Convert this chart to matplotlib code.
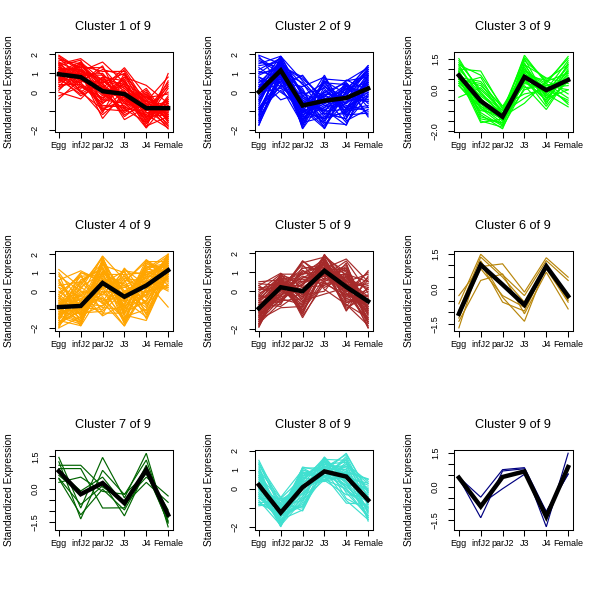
import matplotlib
matplotlib.use("Agg")
import matplotlib.pyplot as plt
import numpy as np

plt.rcParams['font.family'] = ['Liberation Sans', 'DejaVu Sans']

stages = ["Egg", "infJ2", "parJ2", "J3", "J4", "Female"]

cluster_colors = ["red", "blue", "#00FF00", "orange", "brown",
                  "darkgoldenrod", "darkgreen", "turquoise", "navy"]

c1_lines = [
    [1.96, 1.2, 0.6, 0.3, -0.5, -1.2],
    [1.5, 1.78, 0.9, 0.2, -0.8, -0.9],
    [1.3, 1.1, 1.6, 0.5, -0.3, -1.0],
    [1.2, 0.6, 0.2, 1.3, -0.2, -1.5],
    [1.1, 0.9, -0.2, 0.8, 0.36, -0.6],
    [0.9, 1.4, 0.3, -0.5, -1.9, 0.99],
    [0.8, 0.5, -0.6, 0.2, -1.0, 0.5],
    [0.7, 1.2, 0.0, -1.0, -0.6, -1.95],
    [0.5, 0.9, 1.0, -0.3, -1.2, -0.4],
    [1.4, 0.3, -0.4, -0.6, -0.9, -1.3],
    [-0.36, 0.7, 0.5, 1.0, -0.7, -1.4],
    [0.0, -0.36, 0.8, 0.6, -1.1, -0.9],
    [1.6, 1.0, -1.4, 0.0, -0.5, -0.7],
    [1.0, 1.5, 0.4, -1.46, -0.8, -0.5],
    [1.2, 0.8, 0.1, -0.2, -1.5, 0.2],
    [0.6, 1.0, -0.8, -0.7, 0.1, -1.6],
    [1.3, 0.2, 0.7, 0.4, -1.3, -0.8],
    [0.3, 0.6, 1.2, 0.9, -0.4, -1.1],
    [1.8, 1.3, -0.1, -0.9, -1.6, -0.3],
    [0.9, 0.0, -0.9, -0.4, -0.9, -1.8],
    [1.1, 1.6, 0.6, -0.1, -0.1, -1.2],
    [0.4, 0.4, -0.3, 0.7, -1.4, 0.6],
    [1.5, 0.7, 0.2, -1.2, -0.6, -1.0],
    [0.7, 1.1, -1.0, 0.1, -1.7, -0.2],
    [1.0, 0.9, 0.9, -0.8, 0.0, -1.5],
    [1.7, 1.5, 0.4, -0.4, -1.3, -0.6],
    [0.2, 0.9, 0.0, 1.2, -0.6, -1.7],
    [1.4, 1.7, -0.6, 0.5, -1.1, -1.1],
    [0.8, -0.2, 0.5, -1.1, -0.3, -0.1],
    [1.2, 1.3, 1.3, 0.0, -1.8, -1.3],
    [-0.2, 0.3, -0.3, 0.3, -0.5, 0.8],
    [1.6, 0.4, -0.7, -0.8, -1.2, -1.9],
    [0.6, 1.4, 1.1, 1.1, -0.9, -0.6],
    [1.0, 0.1, -1.2, -0.2, -1.5, -0.4],
    [1.9, 1.1, 0.7, -0.6, 0.2, -1.4],
    [0.1, 1.2, -0.5, 0.6, -1.0, 0.3],
    [1.3, 0.6, 0.3, -1.3, -0.4, -1.8],
    [0.5, 1.6, -0.1, 0.4, -1.6, -0.7],
    [1.5, 0.0, 0.8, -0.5, -0.7, 0.0],
    [0.9, 1.0, -1.1, 1.0, -1.3, -1.2],
    [1.1, 0.5, 1.4, -0.9, -0.1, -1.6],
    [0.3, 1.5, 0.2, 0.0, -1.9, -0.5],
    [1.8, 0.8, -0.4, 0.8, -0.8, -1.0],
    [0.7, -0.1, 0.6, -0.3, -1.4, 0.4],
    [1.2, 1.2, -0.9, -1.0, -0.2, -1.3],
]
c1_mean = [0.95, 0.8, 0.05, -0.1, -0.85, -0.85]

c2_lines = [
    [1.95, 1.5, -0.5, -1.0, 0.2, 0.5],
    [1.5, 1.9, -0.2, -0.8, -0.5, -0.2],
    [1.0, 1.2, -1.0, 0.5, -0.9, 0.8],
    [0.8, 0.3, 0.9, -0.6, -0.2, -0.5],
    [0.5, 1.6, -1.5, 0.0, -0.4, 1.2],
    [0.3, 0.9, -0.6, -1.5, 0.65, 0.1],
    [0.1, 1.4, -1.93, -0.3, -0.8, 0.6],
    [-0.2, 1.0, 0.2, -1.93, 0.1, 1.4],
    [-0.5, 1.7, -0.9, 0.9, -1.2, -0.1],
    [-0.8, 0.6, -0.3, -0.9, -1.75, 0.9],
    [-1.0, 1.3, -1.2, -0.4, 0.4, -1.3],
    [-1.3, 0.4, -0.7, 0.3, -0.6, 0.3],
    [-1.75, 1.1, 0.5, -1.2, 0.0, 1.0],
    [-1.5, 0.8, -1.4, -0.1, -1.0, -0.8],
    [0.7, -0.4, 0.0, -0.7, -0.3, 0.4],
    [1.2, 1.8, -0.8, -1.6, 0.5, -0.6],
    [-0.4, 1.5, -1.7, 0.6, -0.1, 1.1],
    [0.0, 0.2, -0.4, -1.1, -1.4, 0.7],
    [1.7, 1.0, -1.1, -0.2, -0.7, -1.0],
    [-1.1, 1.6, 0.4, -0.5, 0.3, 0.0],
    [0.4, 0.7, -1.6, -1.3, -0.2, 1.3],
    [-0.7, 1.9, -0.1, 0.2, -1.1, 0.2],
    [1.3, 0.5, -1.3, -0.8, 0.2, -0.4],
    [-1.6, 1.2, -0.5, -1.7, -0.5, 0.5],
    [0.9, 1.4, 0.7, -0.3, -1.6, -0.2],
    [-0.3, 0.9, -1.8, 0.7, 0.6, 0.8],
    [0.2, 1.7, -0.2, -1.0, -0.9, -0.7],
    [-0.9, 0.1, -1.0, -1.4, 0.0, 1.2],
    [1.6, 1.3, -0.6, 0.4, -1.3, 0.3],
    [-1.2, 1.0, -1.2, -0.6, 0.3, -0.1],
    [1.8, 1.1, -1.5, 0.1, -0.6, 0.9],
    [-1.4, 1.8, -0.9, -1.9, 0.4, -0.3],
    [0.6, 0.5, 0.3, 0.8, -1.5, -0.9],
    [-0.1, 1.3, -1.1, -0.2, 0.6, 1.3],
    [1.1, 0.8, -0.4, -1.4, -1.0, 0.6],
    [-0.6, 1.5, -1.9, 0.3, -0.3, -0.5],
    [0.3, 1.9, 0.6, -0.7, -0.8, 0.0],
    [-1.7, 0.7, -0.3, -1.0, 0.2, 1.1],
    [1.4, 1.6, -1.3, 0.6, -1.2, -1.1],
    [-0.9, 1.2, 0.1, -1.6, -1.7, 0.4],
    [0.0, 1.0, -0.7, 0.0, 0.5, -0.8],
    [1.9, 0.4, -1.0, -0.5, -0.1, 0.7],
    [-1.2, 1.7, -1.6, 0.8, -0.9, 0.2],
    [0.8, 0.0, -0.8, -1.8, 0.1, 1.4],
    [-0.4, 1.4, 0.8, -0.4, -0.4, -0.4],
    [0.5, 1.1, -1.4, -1.1, -1.4, 0.9],
    [-1.5, 0.9, -0.2, 0.5, 0.4, -1.2],
    [1.0, 1.8, -0.6, -0.9, -0.6, 1.0],
    [-0.8, 0.3, -1.7, -0.1, -0.2, 0.1],
    [0.2, 1.6, 0.0, -1.3, -1.1, 0.5],
]
c2_mean = [0.02, 1.15, -0.7, -0.45, -0.3, 0.2]

c3_lines = [
    [1.5, -0.2, -1.2, 1.66, 0.3, 1.6],
    [1.3, 0.0, -1.0, 1.4, 0.5, 1.2],
    [1.2, -0.5, -1.5, 1.0, -0.3, 0.9],
    [1.0, 0.9, -0.9, 0.8, 0.1, -0.6],
    [0.9, -0.8, -1.6, 1.2, 0.57, 0.3],
    [0.8, -1.2, -1.88, 0.5, -0.5, 1.0],
    [0.7, -0.3, -1.1, 0.2, -0.95, 0.6],
    [0.6, -1.58, -1.4, 0.9, 0.2, 0.0],
    [0.5, 0.2, -0.78, -0.2, 0.0, 1.4],
    [0.4, -0.9, -1.7, 0.6, -0.2, -0.82],
    [0.3, -0.6, -1.3, -0.65, 0.4, 0.8],
    [0.2, -1.0, -1.2, 1.1, -0.6, 0.4],
    [-0.36, 0.1, -1.0, 0.4, -0.1, 1.1],
    [1.1, -0.4, -1.5, 0.0, 0.3, -0.4],
    [0.9, -1.3, -1.6, 1.5, -0.4, 0.7],
    [0.6, 0.4, -0.9, 0.7, 0.45, -0.2],
    [0.4, -0.7, -1.45, 1.3, -0.7, 1.3],
    [1.4, -0.1, -1.3, 0.3, 0.1, 0.2],
    [0.7, -1.1, -1.75, 0.85, -0.3, 0.9],
    [0.5, -0.5, -1.1, -0.4, 0.2, 0.5],
    [0.8, -0.9, -1.4, 1.0, 0.0, -0.5],
    [0.3, 0.6, -1.2, 0.55, -0.8, 0.6],
    [1.0, -0.2, -1.0, 1.55, 0.4, 1.5],
    [0.6, -1.4, -1.6, 0.4, -0.5, 0.8],
    [1.2, 0.7, -0.8, 0.9, 0.3, -0.7],
    [0.2, -0.8, -1.3, 1.2, -0.2, 1.2],
    [0.9, -1.5, -1.8, 0.1, 0.2, 0.4],
    [0.5, 0.3, -1.15, 0.7, -0.4, 0.0],
]
c3_mean = [0.69, -0.54, -1.3, 0.62, -0.02, 0.47]

c4_lines = [
    [1.17, 0.2, 1.0, 0.3, 0.9, 1.5],
    [0.6, 1.1, 0.5, -0.5, 1.2, 2.0],
    [0.2, -0.3, 1.9, 0.6, 0.2, 1.1],
    [-0.1, 0.8, -0.6, 1.25, -0.3, 1.6],
    [-0.4, -1.2, 1.3, -0.8, 1.7, 0.9],
    [-0.6, -0.5, 0.0, -1.5, 0.6, 1.8],
    [-0.8, 0.4, 1.5, 0.0, -0.9, 1.3],
    [-1.0, -1.6, 0.8, -0.2, 0.4, 0.5],
    [-1.2, -0.9, -1.0, 0.9, 1.0, 1.4],
    [-1.4, -0.2, 0.3, -1.1, -0.2, 2.0],
    [-1.6, -1.88, 1.1, -0.4, 0.8, 0.7],
    [-1.8, -1.0, -0.3, -1.9, 0.1, 1.2],
    [-2.0, -1.4, 0.6, 0.4, -0.6, 1.7],
    [-1.5, 0.0, -1.35, -0.7, 1.4, 0.3],
    [-1.1, -1.7, 1.7, -1.3, -1.6, 1.0],
    [-0.7, -0.7, -0.8, 0.7, 0.5, -0.87],
    [-0.3, -1.3, 0.2, -1.7, 1.1, 1.9],
    [-0.9, 0.6, 1.2, -0.1, -1.2, 0.8],
    [-1.3, -0.4, -0.1, 0.2, 0.7, 1.5],
    [-1.7, -1.1, 0.9, -1.0, 0.0, 0.2],
    [0.4, -0.8, 0.4, -0.6, 1.5, 1.2],
    [-0.5, -1.5, 1.4, 1.0, -0.4, 1.6],
    [-1.9, 0.2, -0.5, -0.3, 0.3, 1.0],
    [-1.0, -0.6, 1.6, -1.4, -1.0, 1.8],
    [0.9, -1.8, 0.7, -0.9, 0.9, 0.6],
    [-0.2, 0.9, -1.2, -1.2, 1.3, 1.3],
    [-1.45, -0.1, 0.1, 0.8, -0.7, 0.4],
    [-0.8, -1.25, 1.0, -1.8, 0.2, 1.7],
    [-1.25, 0.5, -0.7, 0.5, 1.6, 0.9],
    [-0.6, -1.5, 1.8, -0.5, -1.4, 1.1],
    [0.8, 0.0, -0.2, 1.1, -1.3, 1.4],
    [0.0, -1.0, 1.5, -0.9, 0.6, 0.0],
    [-1.5, 1.0, 0.5, 0.2, -0.1, 1.9],
    [-0.3, -1.9, 0.0, -0.2, 1.0, 0.7],
    [-1.9, -0.5, 1.0, -1.6, 1.3, 1.5],
    [-1.2, -1.2, -1.1, 0.0, 0.2, 2.0],
    [0.3, 0.5, 1.3, -1.2, -0.5, 0.9],
    [-0.9, -1.6, 0.4, 1.1, 0.9, 1.2],
    [-1.6, 0.3, 1.8, -0.6, 0.0, 0.3],
    [-0.5, -0.3, -0.6, -1.9, 1.6, 1.6],
    [-1.1, -1.0, 0.6, 0.6, -1.5, 1.0],
    [0.6, -1.4, 1.1, -0.4, 0.4, 1.8],
    [-1.8, -0.2, -0.9, -1.0, 1.1, 0.6],
    [-0.7, 0.8, 0.9, 0.9, -0.8, 1.4],
    [-1.4, -1.8, 1.5, -0.1, 0.5, 0.1],
    [1.0, -0.6, -0.4, -1.5, 0.8, 1.7],
    [-0.2, -1.1, 0.2, 0.3, -1.1, 1.1],
    [-2.0, 0.6, 1.2, -1.3, 1.5, 0.8],
    [-1.0, -0.4, -1.3, 1.2, 0.3, 1.3],
    [-0.4, 1.0, 0.7, -0.8, -0.2, 1.9],
    [-1.3, -1.7, 0.3, 0.5, 1.7, 0.5],
    [0.5, -0.9, 1.6, -1.1, -0.6, 1.5],
    [-1.7, -0.7, -0.2, -0.3, 1.2, 1.0],
    [-0.8, 0.1, 1.9, -1.7, 0.1, 1.2],
    [0.2, -1.3, -0.8, 0.0, 0.7, 0.2],
]
c4_mean = [-0.87, -0.81, 0.44, -0.31, 0.3, 1.13]

c5_lines = [
    [0.5, 0.6, 0.9, 1.4, 0.5, 0.2],
    [0.3, 0.95, 0.2, 1.0, -0.3, 1.08],
    [0.1, 0.0, 1.6, 0.8, 0.9, -0.5],
    [-0.1, 0.4, -0.6, 1.95, 0.1, -1.2],
    [-0.3, -0.2, 0.5, 1.2, 1.7, 0.5],
    [-0.5, 0.8, -1.4, 0.6, 0.3, -0.9],
    [-0.7, 0.3, 0.3, 1.6, -0.6, 0.0],
    [-0.9, -0.5, 1.1, 0.2, 0.8, -1.5],
    [-1.1, 0.7, -0.2, 1.3, -1.05, 0.8],
    [-1.3, 0.1, 0.7, 0.9, 0.4, -1.93],
    [-1.5, -0.87, -0.8, 1.7, 0.0, -0.3],
    [-1.7, 0.5, 0.0, 1.1, 1.2, -1.0],
    [-1.85, 0.2, -1.0, 0.5, -0.4, -0.7],
    [-1.6, -0.4, 0.4, 1.5, 0.6, 0.3],
    [-1.2, 0.9, -0.5, -0.15, 0.2, -1.4],
    [-0.8, -0.7, 1.3, 1.0, -0.8, 0.6],
    [-0.4, 0.6, -0.3, 1.8, 1.0, -1.7],
    [-1.0, -0.1, 0.8, 0.4, -0.2, -0.4],
    [-1.4, 0.4, -1.2, 1.2, 0.7, 0.1],
    [-0.6, -0.3, 0.1, 0.7, 1.4, -1.1],
    [0.2, 0.1, -0.7, 1.6, -0.5, -0.6],
    [-1.75, 0.8, 0.6, 0.9, 0.1, -1.6],
    [-0.2, -0.6, 1.0, 1.4, -0.9, -0.2],
    [-1.0, 0.5, -0.1, 1.9, 0.5, 0.9],
    [-1.5, -0.2, 0.2, 0.3, 0.9, -1.3],
    [0.4, 0.3, -0.9, 1.1, -0.1, -0.8],
    [-0.9, 0.7, 0.5, 0.8, 1.6, -0.1],
    [-1.3, -0.5, -0.4, 1.5, 0.2, 0.4],
    [-0.5, 0.2, 1.4, 0.1, -0.7, -1.8],
    [-1.1, 0.6, -1.1, 1.3, 0.4, -0.9],
    [-1.9, 0.4, -0.3, 1.0, 0.3, -1.93],
    [0.0, 0.9, 0.9, 1.7, -0.6, -0.4],
    [-1.2, -0.3, 1.6, 0.6, 1.3, -1.0],
    [-0.6, 0.6, -0.8, 1.2, -0.2, 0.7],
    [-1.6, 0.0, 0.3, 1.9, 0.8, -0.8],
    [-0.3, 0.8, -1.3, 0.4, 0.6, -1.5],
    [-1.4, 0.2, 1.2, 1.4, -1.0, 0.2],
    [0.3, -0.5, 0.4, 0.9, 1.1, -1.2],
    [-0.8, 0.5, -0.6, 1.6, 0.0, 1.0],
    [-1.7, -0.6, 0.7, 1.3, 0.5, -0.5],
    [-1.0, 0.9, -0.2, 0.0, 1.5, -1.7],
    [-0.4, 0.1, 1.5, 1.8, -0.3, -0.2],
    [-1.3, 0.7, -1.0, 0.7, 0.2, -1.1],
    [-0.7, -0.8, 0.0, 1.5, 0.9, 0.5],
    [-1.8, 0.3, 0.9, 1.1, -0.7, -1.4],
    [0.1, 0.5, -0.4, 1.9, 0.4, -0.6],
    [-1.1, -0.2, 1.1, 0.5, 1.2, -1.9],
    [-0.2, 0.8, -1.2, 1.3, -0.4, 0.1],
    [-1.5, 0.4, 0.5, 0.8, 0.7, -0.3],
    [-0.9, -0.4, -0.7, 1.7, -0.1, -1.6],
]
c5_mean = [-0.9, 0.21, 0.0, 1.08, 0.23, -0.53]

c6_lines = [
    [-0.29, 0.95, 1.07, -0.14, 1.33, 0.50],
    [-0.64, 1.48, 0.60, -0.29, 1.21, 0.36],
    [-0.93, 1.36, 0.50, -0.57, 1.05, -0.43],
    [-1.14, 0.86, -0.29, -0.79, 0.86, -0.57],
    [-1.39, 0.36, 0.64, -1.07, 0.71, -0.86],
    [-1.67, 1.20, -0.36, -1.39, 1.00, -0.30],
    [-1.25, 1.10, -0.57, -0.95, 0.95, -0.50],
]
c6_mean = [-1.07, 1.03, 0.18, -0.69, 0.97, -0.31]

c7_lines = [
    [1.45, -0.86, 1.45, -0.40, 1.64, -1.72],
    [1.25, -1.36, 0.86, -0.25, 1.33, -1.45],
    [1.09, 1.09, 0.10, -0.55, 0.55, -0.31],
    [0.94, 0.94, -0.86, -0.85, 1.10, -1.30],
    [0.80, -0.08, 0.55, -0.70, 0.31, -0.60],
    [0.63, -0.20, 0.30, -1.22, 0.90, -1.55],
    [0.47, -1.17, 0.00, -0.95, 0.80, -0.95],
    [0.31, 0.55, -0.10, -0.23, 0.70, -1.20],
    [0.50, -0.70, 0.15, -0.55, 0.75, -1.50],
]
c7_mean = [0.82, -0.23, 0.28, -0.64, 0.88, -1.17]

c8_lines = [
    [1.5, -0.8, 0.5, 1.2, 0.8, -0.5],
    [1.3, -0.44, 1.0, 0.6, 1.2, 0.3],
    [0.9, -1.2, -0.2, 1.68, 0.4, -1.0],
    [0.7, -1.5, 1.15, 0.9, 1.87, -0.2],
    [0.5, -0.9, -0.6, 0.5, 0.0, -1.5],
    [0.3, -1.98, 0.3, 1.4, 0.9, 0.53],
    [0.1, -1.3, 0.8, 0.7, -0.74, -0.8],
    [-0.1, -0.6, -1.15, 1.1, 1.0, -1.2],
    [-0.3, -1.7, 0.0, 1.5, 0.6, -0.1],
    [-0.5, -1.1, 0.6, 0.39, 1.4, -1.68],
    [-0.7, -1.4, -0.9, 1.0, 0.2, 0.1],
    [-0.88, -0.7, 0.2, 0.8, 0.7, -0.6],
    [0.2, -1.8, -0.4, 1.3, 1.1, -1.3],
    [0.6, -1.0, 0.9, 0.45, -0.3, -0.4],
    [-0.2, -1.6, -0.7, 1.6, 0.5, 0.0],
    [0.4, -1.25, 0.4, 0.6, 1.6, -0.9],
    [1.0, -0.5, -0.3, 1.2, 0.3, -1.4],
    [-0.6, -1.9, 0.7, 0.85, 0.8, -0.3],
    [0.0, -0.8, -1.0, 1.45, -0.5, -1.1],
    [0.8, -1.45, 0.1, 0.5, 1.3, 0.4],
    [-0.4, -1.15, 1.1, 1.1, 0.1, -0.7],
    [1.2, -1.7, -0.5, 0.7, 0.9, -1.6],
    [-0.8, -0.9, 0.5, 1.55, 1.5, -0.2],
    [0.3, -1.35, -0.8, 0.95, -0.1, -0.95],
    [0.05, -0.6, 0.25, 0.4, 0.65, 0.2],
    [1.4, -1.1, 0.7, 1.3, 1.0, -1.2],
    [-0.3, -1.5, 1.0, 0.6, 1.7, -0.5],
    [0.6, -1.9, -0.6, 1.6, 0.3, 0.0],
    [-0.7, -0.7, 0.3, 1.0, -0.6, -1.6],
    [0.9, -1.3, 0.9, 0.45, 0.9, 0.5],
    [0.1, -1.6, -1.1, 1.2, 1.2, -0.8],
    [-0.5, -0.5, 0.6, 1.5, 0.0, -1.0],
    [1.1, -1.8, -0.2, 0.8, 1.5, -0.4],
    [-0.2, -1.0, 0.4, 1.65, -0.2, -1.4],
    [0.4, -1.4, 1.1, 0.5, 0.6, 0.3],
    [-0.8, -1.2, -0.4, 1.3, 1.4, -0.7],
    [0.7, -0.6, 0.0, 0.9, 0.4, -1.5],
    [-0.4, -1.7, 0.8, 1.1, 1.8, -0.1],
    [1.3, -0.9, -0.9, 0.7, 0.2, -1.1],
    [0.0, -1.95, 0.5, 1.4, 0.8, -0.6],
]
c8_mean = [0.21, -1.24, 0.09, 0.92, 0.65, -0.58]

c9_lines = [
    [0.42, -0.48, 0.76, 0.85, -1.13, 0.57],
    [0.38, -1.41, 0.70, 0.80, -1.82, 1.50],
    [0.35, -0.80, -0.10, 0.55, -1.13, 0.55],
]
c9_mean = [0.40, -0.90, 0.43, 0.68, -1.36, 0.88]

all_lines = [c1_lines, c2_lines, c3_lines, c4_lines, c5_lines,
             c6_lines, c7_lines, c8_lines, c9_lines]
all_means = [c1_mean, c2_mean, c3_mean, c4_mean, c5_mean,
             c6_mean, c7_mean, c8_mean, c9_mean]

W, H = 600, 597
fig = plt.figure(figsize=(W / 100, H / 100), dpi=100)

x = np.arange(1, len(stages) + 1)

for k in range(9):
    r, c = divmod(k, 3)
    left = (200 * c + 54.5) / W
    top = 199 * r + 52.3
    bottom = 199 * r + 131.8
    ax = fig.add_axes([left, 1 - bottom / H, 118 / W, (bottom - top) / H])
    data = np.array(all_lines[k])
    for row in data:
        ax.plot(x, row, color=cluster_colors[k], lw=0.85, solid_joinstyle='miter')
    ax.plot(x, all_means[k], color='black', lw=3.2, solid_joinstyle='miter')
    lo, hi = data.min(), data.max()
    rng = hi - lo
    ax.set_ylim(lo - 0.04 * rng, hi + 0.04 * rng)
    ax.set_xlim(0.8, 6.2)

    if k in (0, 1, 3, 4, 7):
        ticks = [-2, -1, 0, 1, 2]
        labels = ["\u22122", "", "0", "1", "2"]
    elif k == 2:
        ticks = [-2.0, -1.5, -1.0, -0.5, 0.0, 0.5, 1.0, 1.5]
        labels = ["\u22122.0", "", "", "", "0.0", "", "", "1.5"]
    else:
        ticks = [-1.5, -1.0, -0.5, 0.0, 0.5, 1.0, 1.5]
        labels = ["\u22121.5", "", "", "0.0", "", "", "1.5"]
    ax.set_yticks(ticks)
    ax.set_yticklabels(labels, rotation=90, va='center')
    ax.set_xticks(x)
    ax.set_xticklabels(stages)
    ax.tick_params(axis='both', direction='out', length=4, width=0.75,
                   labelsize=6.5, colors='black')
    ax.tick_params(axis='y', pad=6.5)
    ax.tick_params(axis='x', pad=2.5)
    for sp in ax.spines.values():
        sp.set_linewidth(0.75)
        sp.set_color('black')

    fig.text((200 * c + 113.3) / W, 1 - (199 * r + 27) / H,
             f"Cluster {k + 1} of 9", ha='center', va='center', fontsize=9.2)
    fig.text((200 * c + 9.5) / W, 1 - (199 * r + 92) / H,
             "Standardized Expression", rotation=90, ha='center',
             va='center', fontsize=7.3)

fig.savefig("out.png", dpi=100)
